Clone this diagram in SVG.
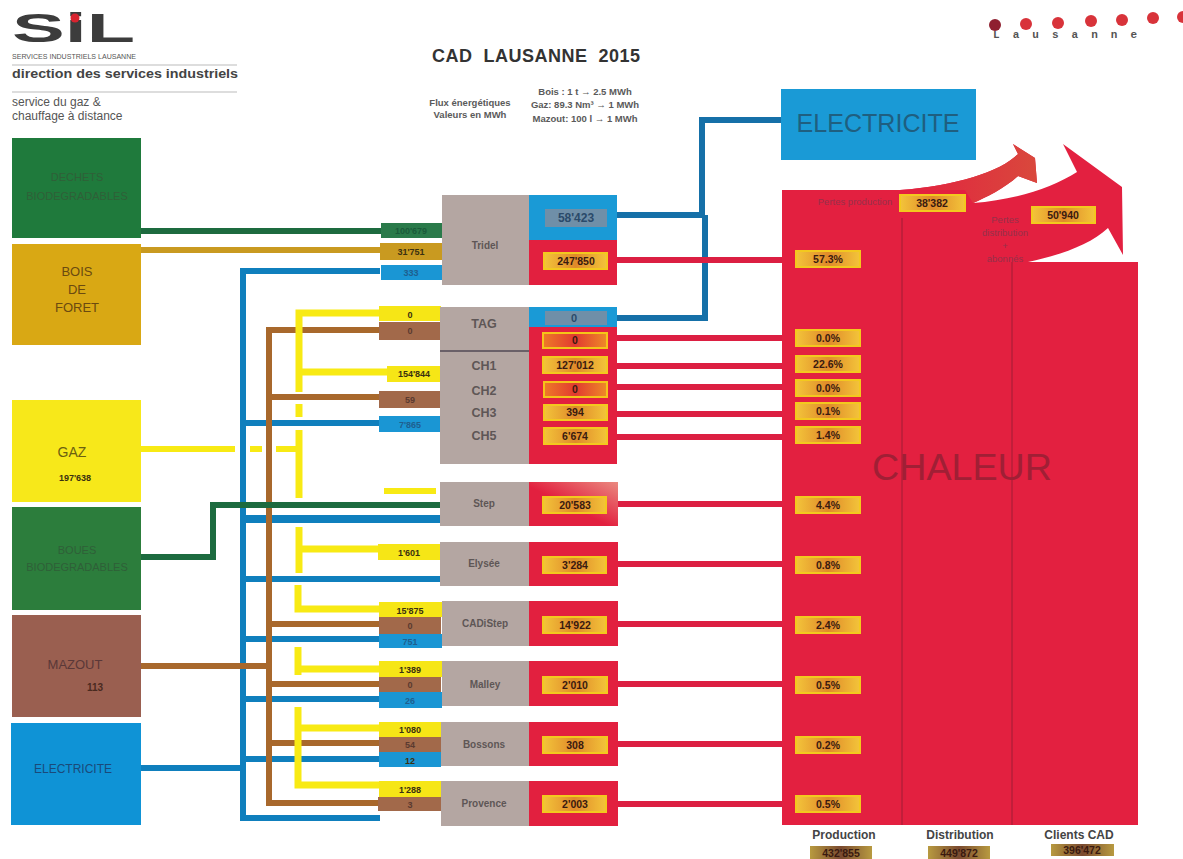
<svg xmlns="http://www.w3.org/2000/svg" width="1183" height="859" viewBox="0 0 1183 859">
<style>
text{font-family:"Liberation Sans",Arial,sans-serif;text-anchor:middle}
.c path{fill:none;stroke-width:6}
.b{stroke:#0f7fbd}.n{stroke:#a8682c}.y{stroke:#f8ea14}.g{stroke:#1d6b3f}.o{stroke:#c99a20}.r{stroke:#dc1f42}
.db{stroke:#1570a8}
.ln{fill:#f6e616}.lb{fill:#a2694a}.lc{fill:#1a96d4}.lg{fill:#2a7a4a}.lo{fill:#c99a20}
.gr{fill:#b4a6a2}.re{fill:#e2203f}.bl{fill:#1a9ad6}
.t9{font-size:9px;font-weight:bold;fill:#3a3010}
.t9b{font-size:9px;font-weight:bold;fill:#1f5f8f}
.t9r{font-size:9px;font-weight:bold;fill:#5a3a30}
.t9g{font-size:9px;font-weight:bold;fill:#1a5a3a}
.nm{font-size:10px;font-weight:bold;fill:#5e5656}
.ch{font-size:12.5px;font-weight:bold;fill:#5e5656}
.p{fill:url(#pg);stroke:#f3c91e;stroke-width:2}
.p0{fill:url(#pr);stroke:#f5c518;stroke-width:2}
.v{font-size:10.5px;font-weight:bold;fill:#3a1a10}
.s{font-size:9.5px;font-weight:bold;fill:#5a5a5a}
.h{font-size:9.5px;fill:#96304a}
</style>
<defs>
<linearGradient id="pg"><stop offset="0" stop-color="#f3c43a"/><stop offset=".5" stop-color="#e08a2a"/><stop offset="1" stop-color="#f3c43a"/></linearGradient>
<linearGradient id="pr"><stop offset="0" stop-color="#ee7a28"/><stop offset=".5" stop-color="#e23a30"/><stop offset="1" stop-color="#ee8a28"/></linearGradient>
<linearGradient id="tot"><stop offset="0" stop-color="#b89a40"/><stop offset=".5" stop-color="#7a4a30"/><stop offset="1" stop-color="#b89a40"/></linearGradient>
<linearGradient id="arr"><stop offset="0" stop-color="#e32040"/><stop offset="1" stop-color="#d9483c"/></linearGradient>
<linearGradient id="stp" x1="0" y1="1" x2="1" y2="0"><stop offset=".45" stop-color="#e2203f"/><stop offset="1" stop-color="#ea8a80"/></linearGradient>
</defs>

<g id="header">
<text x="12" y="42" font-size="40" font-weight="bold" fill="#3c3c3c" style="text-anchor:start" textLength="123" lengthAdjust="spacingAndGlyphs">SiL</text>
<circle cx="75" cy="18" r="4.5" fill="#d8232f"/>
<text x="12" y="59" font-size="7" fill="#555" style="text-anchor:start" textLength="124" lengthAdjust="spacingAndGlyphs">SERVICES INDUSTRIELS LAUSANNE</text>
<path d="M12 65H237M12 92H237" stroke="#bbb" stroke-width="1" fill="none"/>
<text x="12" y="78" font-size="12" font-weight="bold" fill="#444" style="text-anchor:start" textLength="226" lengthAdjust="spacingAndGlyphs">direction des services industriels</text>
<text x="12" y="106" font-size="12" fill="#555" style="text-anchor:start">service du gaz &amp;</text>
<text x="12" y="120" font-size="12" fill="#555" style="text-anchor:start">chauffage à distance</text>
<text x="536" y="62" font-size="18" font-weight="bold" fill="#333" textLength="208" lengthAdjust="spacing" style="white-space:pre">CAD  LAUSANNE  2015</text>
<text x="470" y="106" class="s">Flux énergétiques</text>
<text x="470" y="118" class="s">Valeurs en MWh</text>
<text x="585" y="95" class="s">Bois : 1 t → 2.5 MWh</text>
<text x="585" y="108" class="s">Gaz: 89.3 Nm³ → 1 MWh</text>
<text x="585" y="122" class="s">Mazout: 100 l → 1 MWh</text>
</g>

<g id="lausanne-logo">
<g fill="#d8333a"><circle cx="995" cy="25" r="6" fill="#8f2030"/><circle cx="1026" cy="24" r="6"/><circle cx="1058" cy="23" r="6"/><circle cx="1091" cy="21" r="6"/><circle cx="1122" cy="20" r="6"/><circle cx="1153" cy="18" r="6"/><circle cx="1183" cy="17" r="6"/></g>
<text x="1065" y="38" font-size="11" font-weight="bold" fill="#555" textLength="144" lengthAdjust="spacing" style="font-family:'Liberation Mono',monospace">Lausanne</text>
</g>

<g id="connectors" class="c">
<path class="g" d="M141 231H385"/>
<path class="o" d="M141 250H385"/>
<path class="y" d="M141 449H235" />
<path class="y" d="M250 449H262"/>
<path class="y" d="M276 449H297"/>
<path class="b" d="M380 271H243V818H380"/>
<path class="b" d="M243 423H380"/>
<path class="b" d="M243 519H440" style="stroke-width:8"/>
<path class="b" d="M243 579H440"/>
<path class="b" d="M243 639H380"/>
<path class="b" d="M243 699H380"/>
<path class="b" d="M243 759H380"/>
<path class="b" d="M141 768H243"/>
<path class="n" d="M380 330H269V803H380"/>
<path class="n" d="M269 397H380"/>
<path class="n" d="M269 624H380"/>
<path class="n" d="M269 684H380"/>
<path class="n" d="M269 743H380"/>
<path class="n" d="M141 666H269"/>
<path class="g" d="M141 557H213V505H441"/>
<path class="y" style="stroke-width:7" d="M299 392V313H380"/>
<path class="y" style="stroke-width:7" d="M299 372H388"/>
<path class="y" style="stroke-width:7" d="M299 404V417"/>
<path class="y" style="stroke-width:7" d="M299 430V498"/>
<path class="y" style="stroke-width:7" d="M299 527V573"/>
<path class="y" style="stroke-width:7" d="M299 549H380"/>
<path class="y" style="stroke-width:7" d="M298 585V609H380"/>
<path class="y" style="stroke-width:7" d="M298 647V675"/>
<path class="y" style="stroke-width:7" d="M298 669H380"/>
<path class="y" style="stroke-width:7" d="M298 707V785H380"/>
<path class="y" style="stroke-width:7" d="M298 728H380"/>
<path class="y" d="M384 491H436"/>
<path class="db" d="M617 215H702V120H781"/>
<path class="db" d="M617 318H705V215"/>
<path class="r" d="M617 260H782M617 338H782M617 366H782M617 387H782M617 414H782M617 437H782M618 504H782M618 564H782M618 624H782M618 684H782M618 744H782M618 804H782"/>
</g>

<g id="node-dechets"><rect x="12" y="138" width="129" height="100" fill="#1f7a3c"/><text x="77" y="181" font-size="11" fill="#2f5f38">DECHETS</text><text x="77" y="200" font-size="11" fill="#2f5f38">BIODEGRADABLES</text></g>
<g id="node-bois"><rect x="12" y="244" width="129" height="101" fill="#d9a814"/><text x="77" y="276" font-size="13" fill="#6b4a10">BOIS</text><text x="77" y="294" font-size="13" fill="#6b4a10">DE</text><text x="77" y="312" font-size="13" fill="#6b4a10">FORET</text></g>
<g id="node-gaz"><rect x="12" y="400" width="129" height="102" fill="#f7e81a"/><text x="72" y="457" font-size="14" fill="#6b6010">GAZ</text><text x="75" y="481" class="t9">197'638</text></g>
<g id="node-boues"><rect x="12" y="507" width="129" height="103" fill="#2c7d3c"/><text x="77" y="554" font-size="11" fill="#2f5f38">BOUES</text><text x="77" y="571" font-size="11" fill="#2f5f38">BIODEGRADABLES</text></g>
<g id="node-mazout"><rect x="12" y="615" width="129" height="102" fill="#9a5f50"/><text x="75" y="669" font-size="13" fill="#5a3838">MAZOUT</text><text x="95" y="691" font-size="10" font-weight="bold" fill="#4a2a20">113</text></g>
<g id="node-electricite-in"><rect x="11" y="723" width="130" height="102" fill="#0f93d6"/><text x="73" y="773" font-size="12" fill="#1a4a7a">ELECTRICITE</text></g>

<g id="node-tridel">
<rect class="lg" x="381" y="223" width="61" height="15"/><text class="t9g" x="411" y="234">100'679</text>
<rect class="lo" x="380" y="243" width="62" height="17"/><text class="t9" x="411" y="255">31'751</text>
<rect class="lc" x="381" y="265" width="61" height="15"/><text class="t9b" x="411" y="276">333</text>
<rect class="gr" x="442" y="195" width="87" height="90"/><text class="nm" x="485" y="249">Tridel</text>
<rect class="bl" x="529" y="195" width="88" height="45"/><rect x="545" y="209" width="62" height="18" fill="#6f8fa8"/><text x="576" y="222" font-size="12" font-weight="bold" fill="#2a4a6a">58'423</text>
<rect class="re" x="529" y="240" width="88" height="45"/><rect class="p" x="544" y="253" width="63" height="16"/><text class="v" x="576" y="265">247'850</text>
</g>

<g id="node-tag-ch">
<rect class="ln" x="379" y="306" width="62" height="15"/><text class="t9" x="410" y="318">0</text>
<rect class="lb" x="379" y="322" width="62" height="18"/><text class="t9r" x="410" y="334">0</text>
<rect class="ln" x="387" y="366" width="54" height="16"/><text class="t9" x="414" y="377">154'844</text>
<rect class="lb" x="379" y="391" width="62" height="17"/><text class="t9r" x="410" y="403">59</text>
<rect class="lc" x="379" y="416" width="62" height="16"/><text class="t9b" x="410" y="428">7'865</text>
<rect class="gr" x="440" y="307" width="89" height="157"/>
<path d="M440 351H529" stroke="#6a6068" stroke-width="2"/>
<text class="ch" x="484" y="328">TAG</text><text class="ch" x="484" y="370">CH1</text><text class="ch" x="484" y="395">CH2</text><text class="ch" x="484" y="417">CH3</text><text class="ch" x="484" y="440">CH5</text>
<rect class="bl" x="529" y="307" width="88" height="20"/><rect x="545" y="311" width="62" height="14" fill="#6f8fa8"/><text x="574" y="322" font-size="11" font-weight="bold" fill="#2a4a6a">0</text>
<rect class="re" x="529" y="327" width="88" height="137"/>
<rect class="p0" x="543" y="333" width="64" height="15"/><text class="v" x="575" y="344">0</text>
<rect class="p" x="543" y="357" width="64" height="16"/><text class="v" x="575" y="369">127'012</text>
<rect class="p0" x="544" y="382" width="63" height="15"/><text class="v" x="575" y="393">0</text>
<rect class="p" x="544" y="405" width="63" height="15"/><text class="v" x="575" y="416">394</text>
<rect class="p" x="544" y="428" width="63" height="16"/><text class="v" x="575" y="440">6'674</text>
</g>

<g id="node-step"><rect class="gr" x="440" y="482" width="89" height="44"/><text class="nm" x="484" y="507">Step</text><rect fill="url(#stp)" x="529" y="482" width="89" height="44"/><rect class="p" x="543" y="497" width="63" height="16"/><text class="v" x="575" y="509">20'583</text></g>
<g id="node-elysee"><rect class="ln" x="378" y="544" width="62" height="16"/><text class="t9" x="409" y="556">1'601</text><rect class="gr" x="440" y="542" width="89" height="44"/><text class="nm" x="484" y="567">Elysée</text><rect class="re" x="529" y="542" width="89" height="44"/><rect class="p" x="543" y="557" width="63" height="16"/><text class="v" x="575" y="569">3'284</text></g>
<g id="node-cadistep"><rect class="ln" x="379" y="602" width="63" height="15"/><text class="t9" x="410" y="614">15'875</text><rect class="lb" x="379" y="617" width="62" height="17"/><text class="t9r" x="410" y="629">0</text><rect class="lc" x="379" y="634" width="63" height="14"/><text class="t9b" x="410" y="645">751</text><rect class="gr" x="442" y="601" width="87" height="45"/><text class="nm" x="485" y="627">CADiStep</text><rect class="re" x="529" y="601" width="89" height="45"/><rect class="p" x="543" y="617" width="63" height="16"/><text class="v" x="575" y="629">14'922</text></g>
<g id="node-malley"><rect class="ln" x="379" y="661" width="63" height="16"/><text class="t9" x="410" y="673">1'389</text><rect class="lb" x="379" y="677" width="62" height="15"/><text class="t9r" x="410" y="688">0</text><rect class="lc" x="379" y="692" width="63" height="16"/><text class="t9b" x="410" y="704">26</text><rect class="gr" x="442" y="661" width="87" height="45"/><text class="nm" x="485" y="688">Malley</text><rect class="re" x="529" y="661" width="89" height="45"/><rect class="p" x="543" y="677" width="64" height="16"/><text class="v" x="575" y="689">2'010</text></g>
<g id="node-bossons"><rect class="ln" x="379" y="722" width="62" height="15"/><text class="t9" x="410" y="733">1'080</text><rect class="lb" x="379" y="737" width="62" height="15"/><text class="t9r" x="410" y="748">54</text><rect class="lc" x="379" y="752" width="62" height="15"/><text class="t9" x="410" y="764">12</text><rect class="gr" x="441" y="722" width="88" height="44"/><text class="nm" x="484" y="748">Bossons</text><rect class="re" x="529" y="722" width="89" height="44"/><rect class="p" x="543" y="737" width="64" height="16"/><text class="v" x="575" y="749">308</text></g>
<g id="node-provence"><rect class="ln" x="379" y="781" width="62" height="16"/><text class="t9" x="410" y="793">1'288</text><rect class="lb" x="378" y="797" width="63" height="14"/><text class="t9r" x="410" y="808">3</text><rect class="gr" x="441" y="781" width="88" height="45"/><text class="nm" x="484" y="807">Provence</text><rect class="re" x="529" y="781" width="89" height="45"/><rect class="p" x="543" y="796" width="63" height="16"/><text class="v" x="575" y="808">2'003</text></g>

<g id="node-electricite-out"><rect class="bl" x="781" y="89" width="195" height="71"/><text x="878" y="132" font-size="25" fill="#1f5f80" textLength="163" lengthAdjust="spacingAndGlyphs">ELECTRICITE</text></g>

<g id="node-chaleur">
<path fill="#e32040" d="M782 190H900C955 186 1000 172 1018 154L1013 144L1035 158L1037 183L1018 176C1005 188 985 198 973 203C1015 200 1052 188 1077 172L1063 144L1122 187L1123 255L1108 228C1090 245 1060 255 1028 262H1138V825H782Z"/>
<path fill="url(#arr)" d="M900 190C955 186 1000 172 1018 154L1013 144L1035 158L1037 183L1018 176C1005 188 985 198 973 203L965 190Z"/>
<path d="M902 218V825M1012 262V825" stroke="#a01c34" stroke-width="1" fill="none"/>
<text x="962" y="480" font-size="37" fill="#a01f35" textLength="180" lengthAdjust="spacingAndGlyphs">CHALEUR</text>
<text class="h" x="855" y="205">Pertes production</text>
<rect class="p" x="900" y="195" width="65" height="16"/><text class="v" x="932" y="207">38'382</text>
<rect class="p" x="1032" y="207" width="63" height="16"/><text class="v" x="1063" y="219">50'940</text>
<text class="h" x="1005" y="223">Pertes</text><text class="h" x="1005" y="236">distribution</text><text class="h" x="1005" y="249">+</text><text class="h" x="1005" y="262">abonnés</text>
<rect class="p" x="796" y="251" width="64" height="16"/><text class="v" x="828" y="263">57.3%</text>
<rect class="p" x="796" y="330" width="64" height="16"/><text class="v" x="828" y="342">0.0%</text>
<rect class="p" x="796" y="356" width="64" height="16"/><text class="v" x="828" y="368">22.6%</text>
<rect class="p" x="796" y="380" width="64" height="16"/><text class="v" x="828" y="392">0.0%</text>
<rect class="p" x="796" y="403" width="64" height="16"/><text class="v" x="828" y="415">0.1%</text>
<rect class="p" x="796" y="427" width="64" height="16"/><text class="v" x="828" y="439">1.4%</text>
<rect class="p" x="796" y="497" width="64" height="16"/><text class="v" x="828" y="509">4.4%</text>
<rect class="p" x="796" y="557" width="64" height="16"/><text class="v" x="828" y="569">0.8%</text>
<rect class="p" x="796" y="617" width="64" height="16"/><text class="v" x="828" y="629">2.4%</text>
<rect class="p" x="796" y="677" width="64" height="16"/><text class="v" x="828" y="689">0.5%</text>
<rect class="p" x="796" y="737" width="64" height="16"/><text class="v" x="828" y="749">0.2%</text>
<rect class="p" x="796" y="796" width="64" height="16"/><text class="v" x="828" y="808">0.5%</text>
</g>

<g id="totals">
<text x="844" y="839" font-size="12" font-weight="bold" fill="#444">Production</text>
<text x="960" y="839" font-size="12" font-weight="bold" fill="#444">Distribution</text>
<text x="1079" y="839" font-size="12" font-weight="bold" fill="#444">Clients CAD</text>
<rect x="810" y="846" width="62" height="13" fill="url(#tot)"/><text x="841" y="857" class="v">432'855</text>
<rect x="928" y="846" width="62" height="13" fill="url(#tot)"/><text x="959" y="857" class="v">449'872</text>
<rect x="1051" y="844" width="63" height="12" fill="url(#tot)"/><text x="1082" y="854" class="v">396'472</text>
</g>
</svg>
